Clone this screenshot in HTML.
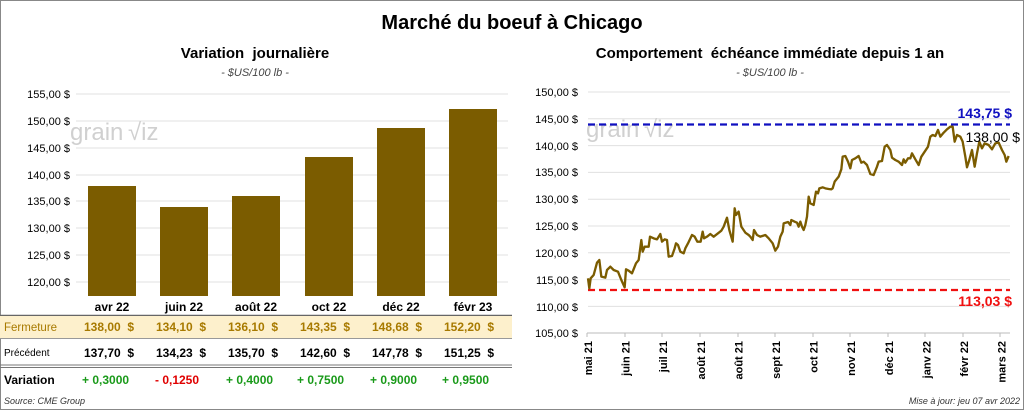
<!DOCTYPE html>
<html><head><meta charset="utf-8"><style>
html,body{margin:0;padding:0;background:#fff}
svg{display:block;font-family:"Liberation Sans",Arial,sans-serif}
text{white-space:pre}
</style></head><body>
<svg width="1024" height="410" viewBox="0 0 1024 410" xmlns="http://www.w3.org/2000/svg">
<rect x="0.5" y="0.5" width="1023" height="409" fill="#fff" stroke="#888"/>
<text x="512" y="29" text-anchor="middle" font-size="20" font-weight="bold" fill="#000">Marché du boeuf à Chicago</text>
<text x="255" y="58" text-anchor="middle" font-size="15" font-weight="bold">Variation  journalière</text>
<text x="255" y="76" text-anchor="middle" font-size="11" font-style="italic" fill="#444">- $US/100 lb -</text>
<text x="770" y="58" text-anchor="middle" font-size="15" font-weight="bold">Comportement  échéance immédiate depuis 1 an</text>
<text x="770" y="76" text-anchor="middle" font-size="11" font-style="italic" fill="#444">- $US/100 lb -</text>

<!-- left chart -->
<g font-size="11" fill="#000" text-anchor="end">
<g stroke="#e0e0e0" stroke-width="1">
<line x1="76" x2="508" y1="94" y2="94"/><line x1="76" x2="508" y1="121" y2="121"/><line x1="76" x2="508" y1="148" y2="148"/><line x1="76" x2="508" y1="175" y2="175"/><line x1="76" x2="508" y1="201" y2="201"/><line x1="76" x2="508" y1="228" y2="228"/><line x1="76" x2="508" y1="255" y2="255"/><line x1="76" x2="508" y1="282" y2="282"/>
</g>
<text x="70" y="98">155,00 $</text><text x="70" y="125">150,00 $</text><text x="70" y="152">145,00 $</text><text x="70" y="179">140,00 $</text><text x="70" y="205">135,00 $</text><text x="70" y="232">130,00 $</text><text x="70" y="259">125,00 $</text><text x="70" y="286">120,00 $</text>
</g>
<text x="70" y="140" font-size="24" fill="#d0d0d0">grain</text><text x="128" y="140" font-size="24" fill="#d0d0d0">√iz</text>
<g fill="#7b5c00">
<rect x="88" y="186" width="48" height="110"/>
<rect x="160" y="207" width="48" height="89"/>
<rect x="232" y="196" width="48" height="100"/>
<rect x="305" y="157" width="48" height="139"/>
<rect x="377" y="128" width="48" height="168"/>
<rect x="449" y="109" width="48" height="187"/>
</g>
<g font-size="12" font-weight="bold" text-anchor="middle">
<text x="112" y="311">avr 22</text><text x="184" y="311">juin 22</text><text x="256" y="311">août 22</text><text x="329" y="311">oct 22</text><text x="401" y="311">déc 22</text><text x="473" y="311">févr 23</text>
</g>
<line x1="0" x2="512" y1="315.5" y2="315.5" stroke="#666" stroke-width="1.5"/>
<rect x="0" y="316" width="512" height="22" fill="#fdf0cc"/>
<line x1="0" x2="512" y1="338.5" y2="338.5" stroke="#999"/>
<g font-size="12" font-weight="bold" fill="#a87a00">
<text x="4" y="331" font-weight="normal" font-size="11.5">Fermeture</text>
<text x="84" y="331">138,00  $</text><text x="156" y="331">134,10  $</text><text x="228" y="331">136,10  $</text><text x="300" y="331">143,35  $</text><text x="372" y="331">148,68  $</text><text x="444" y="331">152,20  $</text>
</g>
<g font-size="12" font-weight="bold" fill="#000">
<text x="4" y="356" font-weight="normal" font-size="10">Précédent</text>
<text x="84" y="357">137,70  $</text><text x="156" y="357">134,23  $</text><text x="228" y="357">135,70  $</text><text x="300" y="357">142,60  $</text><text x="372" y="357">147,78  $</text><text x="444" y="357">151,25  $</text>
</g>
<line x1="0" x2="512" y1="365" y2="365" stroke="#777"/><line x1="0" x2="512" y1="367.5" y2="367.5" stroke="#777"/>
<g font-size="12" font-weight="bold">
<text x="4" y="384" fill="#000">Variation</text>
<text x="82" y="384" fill="#1a9a1a">+ 0,3000</text><text x="155" y="384" fill="#e00000">- 0,1250</text><text x="226" y="384" fill="#1a9a1a">+ 0,4000</text><text x="297" y="384" fill="#1a9a1a">+ 0,7500</text><text x="370" y="384" fill="#1a9a1a">+ 0,9000</text><text x="442" y="384" fill="#1a9a1a">+ 0,9500</text>
</g>
<text x="4" y="404" font-size="9" font-style="italic" fill="#333">Source: CME Group</text>

<!-- right chart -->
<g stroke="#e0e0e0" stroke-width="1">
<line x1="588" x2="1010" y1="92" y2="92"/><line x1="588" x2="1010" y1="118.8" y2="118.8"/><line x1="588" x2="1010" y1="145.6" y2="145.6"/><line x1="588" x2="1010" y1="172.4" y2="172.4"/><line x1="588" x2="1010" y1="199.2" y2="199.2"/><line x1="588" x2="1010" y1="226" y2="226"/><line x1="588" x2="1010" y1="252.8" y2="252.8"/><line x1="588" x2="1010" y1="279.6" y2="279.6"/><line x1="588" x2="1010" y1="306.4" y2="306.4"/>
</g>
<line x1="587" x2="1010" y1="333" y2="333" stroke="#bbb"/>
<g font-size="11" text-anchor="end">
<text x="578" y="96">150,00 $</text><text x="578" y="123">145,00 $</text><text x="578" y="150">140,00 $</text><text x="578" y="176">135,00 $</text><text x="578" y="203">130,00 $</text><text x="578" y="230">125,00 $</text><text x="578" y="257">120,00 $</text><text x="578" y="284">115,00 $</text><text x="578" y="311">110,00 $</text><text x="578" y="337">105,00 $</text>
</g>
<text x="586" y="137" font-size="24" fill="#d0d0d0">grain</text><text x="644" y="137" font-size="24" fill="#d0d0d0">√iz</text>
<line x1="588" x2="1010" y1="124.5" y2="124.5" stroke="#1010c0" stroke-width="2.2" stroke-dasharray="7,4"/>
<line x1="588" x2="1010" y1="290" y2="290" stroke="#f01010" stroke-width="2.2" stroke-dasharray="7,4"/>
<g transform="translate(512,80) scale(0.33333)">
<polyline fill="none" stroke="#7b5c00" stroke-width="7" stroke-linejoin="round" points="228,595 232,625 236,595 245,585 255,548 262,540 268,590 280,593 285,570 295,560 305,570 318,575 328,600 338,622 342,568 350,572 360,580 372,550 380,540 388,480 392,515 398,500 410,500 414,470 425,475 435,478 445,462 450,485 458,478 465,480 470,530 480,528 488,505 492,490 498,495 505,515 515,520 520,505 528,490 540,465 548,470 556,485 566,485 572,455 576,475 585,470 595,462 605,470 618,460 628,452 635,440 645,413 652,450 662,485 668,385 672,405 680,395 688,440 700,458 710,465 715,470 722,480 726,450 735,465 745,470 760,465 770,475 782,490 790,512 798,500 805,470 812,455 815,430 828,426 835,435 838,420 848,425 855,428 860,440 865,425 870,440 875,450 880,435 885,410 890,350 895,370 905,375 912,335 918,340 922,325 932,322 940,325 950,327 958,328 962,325 968,305 980,290 988,268 992,230 1000,228 1008,245 1015,265 1020,240 1030,235 1040,228 1048,248 1055,245 1065,255 1075,282 1085,285 1095,260 1100,245 1110,243 1118,200 1125,195 1135,210 1140,233 1150,240 1160,245 1170,255 1175,238 1180,248 1188,235 1195,235 1200,220 1210,238 1220,255 1228,230 1238,215 1248,200 1255,170 1262,165 1270,168 1278,150 1285,170 1295,158 1305,148 1315,140 1322,140 1328,185 1335,165 1345,170 1352,185 1360,230 1365,262 1372,240 1380,210 1388,260 1395,220 1402,185 1410,205 1418,190 1430,195 1440,208 1450,190 1460,188 1470,210 1478,225 1483,245 1490,228"/>
</g>
<text x="1012" y="118" text-anchor="end" font-size="14" font-weight="bold" fill="#1010c0">143,75 $</text>
<text x="1020" y="142" text-anchor="end" font-size="14" fill="#000">138,00 $</text>
<text x="1012" y="306" text-anchor="end" font-size="14" font-weight="bold" fill="#f01010">113,03 $</text>
<g font-size="11" font-weight="bold" text-anchor="end">
<text transform="translate(592,341) rotate(-90)">mai 21</text>
<text transform="translate(629.6,341) rotate(-90)">juin 21</text>
<text transform="translate(667.2,341) rotate(-90)">juil 21</text>
<text transform="translate(704.8,341) rotate(-90)">août 21</text>
<text transform="translate(742.4,341) rotate(-90)">août 21</text>
<text transform="translate(780,341) rotate(-90)">sept 21</text>
<text transform="translate(817.6,341) rotate(-90)">oct 21</text>
<text transform="translate(855.2,341) rotate(-90)">nov 21</text>
<text transform="translate(892.8,341) rotate(-90)">déc 21</text>
<text transform="translate(930.4,341) rotate(-90)">janv 22</text>
<text transform="translate(968,341) rotate(-90)">févr 22</text>
<text transform="translate(1005.6,341) rotate(-90)">mars 22</text>
</g>
<g stroke="#bbb"><line x1="587" x2="587" y1="333" y2="337"/><line x1="625" x2="625" y1="333" y2="337"/><line x1="662" x2="662" y1="333" y2="337"/><line x1="700" x2="700" y1="333" y2="337"/><line x1="738" x2="738" y1="333" y2="337"/><line x1="775" x2="775" y1="333" y2="337"/><line x1="813" x2="813" y1="333" y2="337"/><line x1="850" x2="850" y1="333" y2="337"/><line x1="888" x2="888" y1="333" y2="337"/><line x1="925" x2="925" y1="333" y2="337"/><line x1="963" x2="963" y1="333" y2="337"/><line x1="1000" x2="1000" y1="333" y2="337"/></g>
<text x="1020" y="404" text-anchor="end" font-size="9" font-style="italic" fill="#333">Mise à jour: jeu 07 avr 2022</text>
</svg>
</body></html>
